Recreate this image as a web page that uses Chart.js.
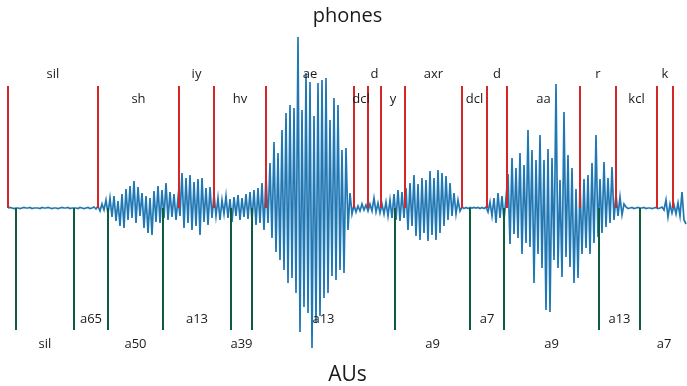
<!DOCTYPE html>
<html>
<head>
<meta charset="utf-8">
<title>phones / AUs</title>
<script src="https://cdn.jsdelivr.net/npm/chart.js@4.4.0/dist/chart.umd.min.js"></script>
<style>
  html, body { margin: 0; padding: 0; background: #fff; }
  canvas { display: block; }
</style>
</head>
<body>
<canvas id="chart" width="687" height="386"></canvas>
<script>
// phone segmentation (seconds)
const phones = ['sil', 'sh', 'iy', 'hv', 'ae', 'dcl', 'd', 'y', 'axr', 'dcl', 'd', 'aa', 'r', 'kcl', 'k'];
const phoneBounds = [0, 0.225, 0.4275, 0.515, 0.645, 0.865, 0.9, 0.9325, 0.9925, 1.135, 1.1975, 1.2475, 1.43, 1.52, 1.6225, 1.6625];

// acoustic units (seconds)
const aus = ['sil', 'a65', 'a50', 'a13', 'a39', 'a13', 'a9', 'a7', 'a9', 'a13', 'a7'];
const auBounds = [0.02, 0.165, 0.25, 0.3875, 0.5575, 0.61, 0.9675, 1.155, 1.24, 1.4775, 1.58, 1.7];

// waveform, one value every 5 ms
const sampleStep = 0.005;
const wave = [
  // sil
  0, 0.5, 0, -0.5, 0, 0, -0.5, 0, 0.5, 0, 0, 0.5, -0.5, 0, 0, 0, -0.5, 0.5, 0, 0,
  0.5, 0, -0.5, 0, 0, -0.5, 0, 0.5, 0, 0, 0.5, -0.5, 0, 0, 0, -0.5, 0.5, 0, -0.5, 0,
  0.5, -0.5, 0, 1, -1,
  2, -3, 4, -2,
  // sh
  8, -6, 10, -9, 12, -13, 7, -18, 14, -20, 19, -12, 22, -10, 27, -15, 21, -8, 15, -20,
  12, -25, 10, -27, 17, -14, 22, -15, 18, -10, 25, -12, 16, -9, 14, -12, 10,
  // iy
  -8, 35, -20, 30, -15, 33, -22, 26, -18, 29, -27, 30, -14, 20, -17, 21, -10,
  // hv
  14, -8, 10, -12, 8, -6, 12, -10, 9, -14, 11, -8, 13, -12, 10, -9, 14, -11, 16, -13,
  18, -17, 20, -15, 25, -22,
  // ae
  33, -15, 45, -30, 66, -44, 55, -52, 78, -62, 95, -75, 103, -70, 100, -85, 171, -124, 98, -99,
  135, -105, 126, -140, 92, -115, 125, -108, 128, -90, 130, -85, 88, -68, 110, -72, 103, -62, 58, -65,
  60, -22, 15, -6,
  // dcl d y
  3, -4, 2, -3, 4, -2, 3, -3, 4, -3, 10, -4, 5, -5, 4, -6, 6, -8, 8, -10,
  14, -12, 18, -13, 16, -10,
  // axr
  20, -22, 25, -18, 33, -28, 24, -32, 30, -25, 28, -33, 37, -27, 30, -32, 38, -25, 35, -18,
  32, -12, 25, -8, 15, -6, 8, -3,
  // dcl
  1, -0.5, 0.5, -0.5, 0.5, 0, 0.5, 0, 0.5, -0.5, 0.5, -0.5, 1,
  // d
  -4, 6, -8, 10, -15, 15, -10, 12, -12, 10,
  // aa r
  34, -36, 50, -26, 40, -30, 55, -46, 43, -35, 78, -39, 58, -75, 48, -46, 73, -60, 48, -102,
  59, -104, 50, -52, 124, -60, 28, -69, 96, -49, 53, -59, 40, -75, 19, -70, 25, -46, 29, -40,
  33, -46, 45, -35, 73, -29, 29, -25, 46, -19, 30, -15, 41, -12, 14, -8, 11, -7, 4,
  // kcl
  1, -0.5, 0, 0.5, -0.5, 0, 0.5, 0, 0, 0.5, -0.5, 0, 0, -0.5, 0, 0.5, -0.5, 0, 1, -2,
  // k
  8, -9, 4, -5, 3, -6, 5, -8, 16, -12, -16
];

const waveData = wave.map((v, i) => ({ x: i * sampleStep, y: v }));

function boundaryLines(bounds, h) {
  const pts = [];
  bounds.forEach(b => {
    pts.push({ x: b, y: 0 }, { x: b, y: h }, { x: b, y: null });
  });
  return pts;
}

// segment names above / below the waveform
const segmentLabels = {
  id: 'segmentLabels',
  afterDatasetsDraw(chart) {
    const { ctx, scales: { x, y } } = chart;
    ctx.save();
    ctx.font = '13px "Open Sans"';
    ctx.fillStyle = '#1a1a1a';
    ctx.textAlign = 'center';
    ctx.textBaseline = 'middle';
    phones.forEach((p, i) => {
      const cx = x.getPixelForValue((phoneBounds[i] + phoneBounds[i + 1]) / 2);
      ctx.fillText(p, cx, y.getPixelForValue(i % 2 === 0 ? 134 : 109));
    });
    aus.forEach((a, i) => {
      const cx = x.getPixelForValue((auBounds[i] + auBounds[i + 1]) / 2);
      ctx.fillText(a, cx, y.getPixelForValue(i % 2 === 0 ? -136 : -111));
    });
    ctx.restore();
  }
};

new Chart(document.getElementById('chart').getContext('2d'), {
  type: 'line',
  data: {
    datasets: [
      {
        label: 'phones',
        data: boundaryLines(phoneBounds, 122),
        borderColor: '#d62728',
        borderWidth: 2,
        pointRadius: 0,
        spanGaps: false,
        clip: false
      },
      {
        label: 'AUs',
        data: boundaryLines(auBounds, -122),
        borderColor: '#0d5c3c',
        borderWidth: 2,
        pointRadius: 0,
        spanGaps: false,
        clip: false
      },
      {
        label: 'wave',
        data: waveData,
        borderColor: '#1f77b4',
        borderWidth: 1.7,
        pointRadius: 0,
        tension: 0
      }
    ]
  },
  options: {
    responsive: false,
    animation: false,
    layout: { padding: { left: 8, right: 0, top: 0, bottom: 0 } },
    scales: {
      x: { type: 'linear', min: 0, max: 1.6975, display: false },
      y: { min: -146, max: 178, display: false }
    },
    plugins: {
      legend: { display: false },
      tooltip: { enabled: false },
      title: {
        display: true,
        text: 'phones',
        color: '#1a1a1a',
        font: { family: 'Open Sans', size: 20, weight: 'normal', lineHeight: 1 },
        padding: { top: 6, bottom: 4 }
      },
      subtitle: {
        display: true,
        position: 'bottom',
        text: 'AUs',
        color: '#1a1a1a',
        font: { family: 'Open Sans', size: 21, weight: 'normal', lineHeight: 1 },
        padding: { top: 11, bottom: 0 }
      }
    }
  },
  plugins: [segmentLabels]
});
</script>
</body>
</html>
